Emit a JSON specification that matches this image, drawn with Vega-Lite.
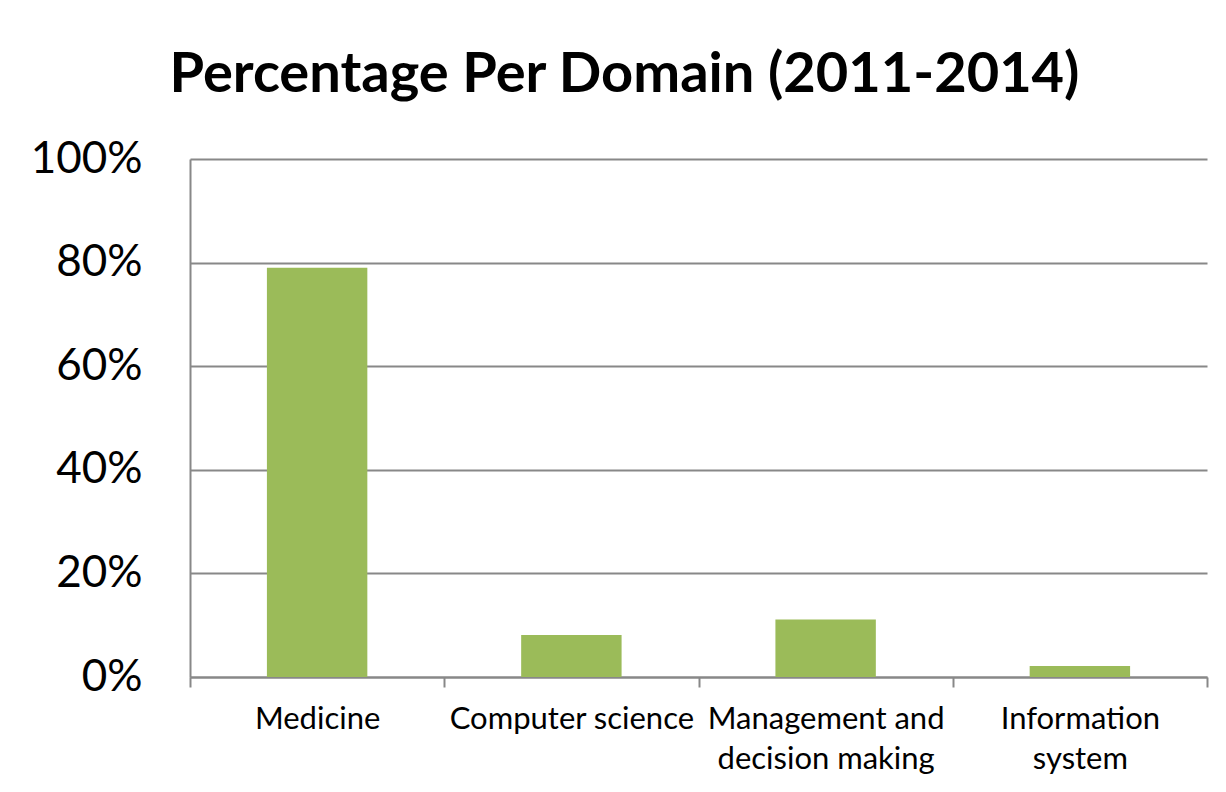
{
  "$schema": "https://vega.github.io/schema/vega-lite/v6.json",
  "width": 1017,
  "height": 518,
  "autosize": {"type": "none"},
  "padding": {"left": 190, "top": 159, "right": 19, "bottom": 115},
  "background": "white",
  "title": {
    "text": "Percentage Per Domain (2011-2014)",
    "font": "Lato",
    "fontSize": 56,
    "fontWeight": "bold",
    "color": "black",
    "anchor": "middle",
    "dx": -74,
    "offset": 33
  },
  "data": {
    "values": [
      {"domain": "Medicine", "pct": 0.79},
      {"domain": "Computer science", "pct": 0.081},
      {"domain": "Management and decision making", "pct": 0.111},
      {"domain": "Information system", "pct": 0.021}
    ]
  },
  "mark": {"type": "bar", "color": "#9BBB59", "width": {"band": 0.395}},
  "encoding": {
    "x": {
      "field": "domain",
      "type": "nominal",
      "sort": null,
      "scale": {"paddingInner": 0, "paddingOuter": 0},
      "axis": {
        "title": null,
        "labelAngle": 0,
        "labelFont": "Lato",
        "labelFontSize": 31,
        "labelColor": "black",
        "labelLineHeight": 40,
        "labelPadding": 17,
        "labelLimit": 400,
        "tickBand": "extent",
        "tickSize": 10,
        "tickColor": "#888888",
        "tickWidth": 2,
        "domainColor": "#888888",
        "domainWidth": 2,
        "grid": false,
        "labelExpr": "datum.value == 'Management and decision making' ? ['Management and', 'decision making'] : datum.value == 'Information system' ? ['Information', 'system'] : datum.value"
      }
    },
    "y": {
      "field": "pct",
      "type": "quantitative",
      "scale": {"domain": [0, 1]},
      "axis": {
        "title": null,
        "values": [0, 0.2, 0.4, 0.6, 0.8, 1],
        "format": ".0%",
        "labelFont": "Lato",
        "labelFontSize": 44,
        "labelColor": "black",
        "labelPadding": 48,
        "ticks": false,
        "grid": true,
        "gridColor": "#888888",
        "gridWidth": 2,
        "domainColor": "#888888",
        "domainWidth": 2
      }
    }
  },
  "config": {"view": {"stroke": null}}
}
